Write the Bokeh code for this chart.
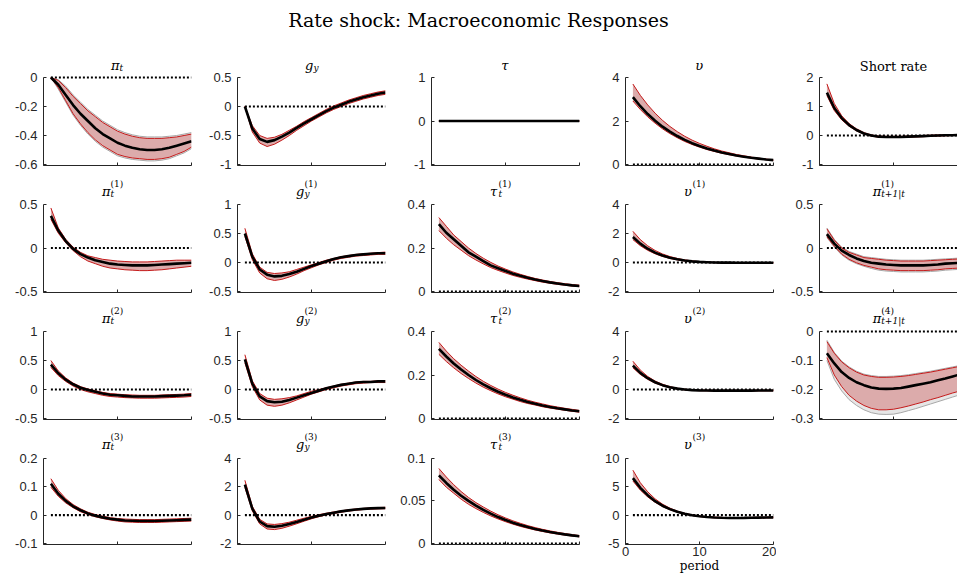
from bokeh.plotting import figure
from bokeh.layouts import column, row
from bokeh.models import Div, Range1d, Label, FixedTicker
from bokeh.embed import file_html
from bokeh.resources import INLINE

# ---------------- data ----------------
periods = list(range(1, 21))
zero_line = [0.0] * 20

# Row 1
pi_t_med = [0, -0.05, -0.12, -0.19, -0.25, -0.30, -0.35, -0.39, -0.42, -0.45, -0.47, -0.485, -0.495, -0.50, -0.50, -0.495, -0.485, -0.47, -0.455, -0.44]
pi_t_hi = [0, -0.02, -0.07, -0.13, -0.18, -0.23, -0.27, -0.31, -0.34, -0.37, -0.39, -0.405, -0.415, -0.42, -0.42, -0.42, -0.415, -0.41, -0.40, -0.39]
pi_t_lo = [0, -0.07, -0.16, -0.25, -0.32, -0.38, -0.43, -0.47, -0.50, -0.53, -0.545, -0.555, -0.56, -0.565, -0.565, -0.56, -0.55, -0.53, -0.51, -0.48]
pi_t_ghi = [0, -0.015, -0.06, -0.12, -0.17, -0.22, -0.26, -0.30, -0.33, -0.36, -0.38, -0.395, -0.405, -0.41, -0.41, -0.41, -0.405, -0.40, -0.39, -0.38]
pi_t_glo = [0, -0.08, -0.17, -0.26, -0.33, -0.39, -0.44, -0.48, -0.51, -0.54, -0.555, -0.565, -0.57, -0.575, -0.575, -0.57, -0.56, -0.54, -0.52, -0.49]

gy_med = [0, -0.38, -0.56, -0.61, -0.58, -0.52, -0.45, -0.37, -0.29, -0.22, -0.15, -0.08, -0.02, 0.03, 0.08, 0.12, 0.16, 0.19, 0.22, 0.24]
gy_hi = [0, -0.33, -0.50, -0.55, -0.53, -0.48, -0.41, -0.34, -0.26, -0.19, -0.12, -0.05, 0.01, 0.06, 0.11, 0.15, 0.19, 0.22, 0.25, 0.27]
gy_lo = [0, -0.44, -0.63, -0.69, -0.65, -0.58, -0.50, -0.41, -0.33, -0.25, -0.18, -0.11, -0.05, 0.00, 0.05, 0.09, 0.13, 0.16, 0.19, 0.21]

tau_med = [0.0] * 20
tau_hi = [0.0] * 20
tau_lo = [0.0] * 20

ups_med = [3.10, 2.68, 2.32, 2.01, 1.74, 1.51, 1.31, 1.13, 0.98, 0.85, 0.74, 0.64, 0.55, 0.48, 0.41, 0.36, 0.31, 0.27, 0.23, 0.20]
ups_hi = [3.70, 3.18, 2.74, 2.36, 2.03, 1.75, 1.51, 1.30, 1.12, 0.97, 0.84, 0.72, 0.62, 0.54, 0.46, 0.40, 0.34, 0.29, 0.25, 0.21]
ups_lo = [2.92, 2.53, 2.19, 1.90, 1.64, 1.42, 1.23, 1.06, 0.92, 0.80, 0.69, 0.60, 0.52, 0.45, 0.39, 0.34, 0.29, 0.25, 0.22, 0.19]

sr_med = [1.48, 0.95, 0.60, 0.36, 0.19, 0.07, 0.00, -0.04, -0.05, -0.05, -0.05, -0.04, -0.03, -0.02, -0.01, 0.00, 0.01, 0.01, 0.02, 0.02]
sr_hi = [1.78, 1.10, 0.68, 0.41, 0.23, 0.10, 0.02, -0.02, -0.03, -0.03, -0.03, -0.02, -0.01, 0.00, 0.01, 0.02, 0.02, 0.03, 0.03, 0.03]
sr_lo = [1.38, 0.86, 0.54, 0.32, 0.16, 0.05, -0.02, -0.06, -0.07, -0.07, -0.07, -0.06, -0.05, -0.04, -0.03, -0.02, -0.01, 0.00, 0.00, 0.01]

# Row 2
pi1_med = [0.37, 0.20, 0.08, -0.01, -0.07, -0.11, -0.14, -0.16, -0.18, -0.19, -0.195, -0.20, -0.20, -0.20, -0.195, -0.19, -0.185, -0.18, -0.175, -0.17]
pi1_hi = [0.46, 0.23, 0.10, 0.01, -0.05, -0.09, -0.11, -0.13, -0.14, -0.15, -0.155, -0.16, -0.16, -0.16, -0.155, -0.15, -0.145, -0.14, -0.14, -0.14]
pi1_lo = [0.33, 0.17, 0.06, -0.03, -0.10, -0.15, -0.18, -0.21, -0.23, -0.24, -0.25, -0.255, -0.26, -0.26, -0.255, -0.25, -0.24, -0.23, -0.22, -0.21]

gy1_med = [0.50, 0.10, -0.12, -0.21, -0.24, -0.23, -0.20, -0.16, -0.11, -0.06, -0.02, 0.02, 0.06, 0.09, 0.11, 0.13, 0.14, 0.15, 0.16, 0.16]
gy1_hi = [0.59, 0.15, -0.08, -0.17, -0.19, -0.18, -0.16, -0.12, -0.08, -0.04, 0.00, 0.04, 0.07, 0.10, 0.12, 0.14, 0.15, 0.16, 0.17, 0.18]
gy1_lo = [0.45, 0.05, -0.18, -0.28, -0.31, -0.29, -0.25, -0.20, -0.14, -0.09, -0.04, 0.00, 0.04, 0.07, 0.09, 0.11, 0.12, 0.13, 0.14, 0.14]

tau1_med = [0.31, 0.27, 0.24, 0.21, 0.18, 0.16, 0.14, 0.12, 0.107, 0.094, 0.082, 0.072, 0.063, 0.055, 0.048, 0.042, 0.037, 0.032, 0.028, 0.025]
tau1_hi = [0.34, 0.30, 0.26, 0.23, 0.20, 0.175, 0.153, 0.134, 0.117, 0.103, 0.090, 0.079, 0.069, 0.060, 0.053, 0.046, 0.041, 0.036, 0.032, 0.029]
tau1_lo = [0.28, 0.245, 0.215, 0.19, 0.165, 0.145, 0.127, 0.11, 0.097, 0.085, 0.074, 0.065, 0.057, 0.050, 0.043, 0.038, 0.033, 0.029, 0.025, 0.022]

ups1_med = [1.76, 1.30, 0.95, 0.68, 0.48, 0.33, 0.22, 0.14, 0.08, 0.04, 0.02, 0.00, -0.01, -0.01, -0.02, -0.02, -0.02, -0.02, -0.02, -0.02]
ups1_hi = [2.15, 1.58, 1.15, 0.83, 0.59, 0.41, 0.28, 0.18, 0.11, 0.06, 0.03, 0.01, 0.00, 0.00, -0.01, -0.01, -0.01, -0.01, -0.01, -0.01]
ups1_lo = [1.58, 1.16, 0.84, 0.60, 0.42, 0.28, 0.18, 0.11, 0.06, 0.02, 0.00, -0.01, -0.02, -0.02, -0.03, -0.03, -0.03, -0.03, -0.03, -0.03]

pif1_med = [0.16, 0.05, -0.03, -0.08, -0.12, -0.15, -0.17, -0.18, -0.19, -0.195, -0.20, -0.20, -0.20, -0.20, -0.195, -0.19, -0.18, -0.175, -0.17, -0.16]
pif1_hi = [0.22, 0.09, 0.00, -0.05, -0.08, -0.11, -0.12, -0.13, -0.14, -0.145, -0.15, -0.15, -0.15, -0.15, -0.145, -0.14, -0.135, -0.13, -0.125, -0.12]
pif1_lo = [0.13, 0.02, -0.07, -0.13, -0.17, -0.20, -0.22, -0.24, -0.25, -0.255, -0.26, -0.26, -0.26, -0.26, -0.255, -0.25, -0.24, -0.235, -0.23, -0.22]
pif1_ghi = [0.23, 0.10, 0.01, -0.04, -0.07, -0.10, -0.11, -0.12, -0.13, -0.135, -0.14, -0.14, -0.14, -0.14, -0.135, -0.13, -0.125, -0.12, -0.115, -0.11]
pif1_glo = [0.12, 0.01, -0.08, -0.14, -0.18, -0.21, -0.235, -0.255, -0.265, -0.27, -0.275, -0.275, -0.275, -0.275, -0.27, -0.265, -0.255, -0.25, -0.245, -0.235]

# Row 3
pi2_med = [0.43, 0.28, 0.17, 0.09, 0.03, -0.01, -0.04, -0.07, -0.09, -0.10, -0.11, -0.12, -0.12, -0.12, -0.12, -0.115, -0.11, -0.105, -0.10, -0.09]
pi2_hi = [0.50, 0.32, 0.20, 0.11, 0.05, 0.01, -0.02, -0.05, -0.07, -0.08, -0.09, -0.095, -0.10, -0.10, -0.10, -0.095, -0.09, -0.085, -0.08, -0.07]
pi2_lo = [0.38, 0.24, 0.14, 0.06, 0.00, -0.04, -0.07, -0.10, -0.12, -0.13, -0.14, -0.145, -0.15, -0.15, -0.15, -0.145, -0.14, -0.135, -0.13, -0.12]

gy2_med = [0.52, 0.10, -0.12, -0.20, -0.22, -0.21, -0.18, -0.14, -0.10, -0.06, -0.02, 0.02, 0.05, 0.08, 0.10, 0.12, 0.13, 0.13, 0.14, 0.14]
gy2_hi = [0.60, 0.15, -0.07, -0.15, -0.17, -0.16, -0.14, -0.11, -0.07, -0.03, 0.00, 0.03, 0.06, 0.09, 0.11, 0.13, 0.14, 0.14, 0.15, 0.15]
gy2_lo = [0.46, 0.05, -0.18, -0.27, -0.29, -0.27, -0.23, -0.18, -0.13, -0.08, -0.04, 0.00, 0.03, 0.06, 0.08, 0.10, 0.11, 0.12, 0.12, 0.12]

tau2_med = [0.32, 0.285, 0.253, 0.225, 0.20, 0.177, 0.157, 0.139, 0.123, 0.109, 0.097, 0.086, 0.076, 0.068, 0.060, 0.053, 0.047, 0.042, 0.037, 0.033]
tau2_hi = [0.35, 0.31, 0.275, 0.245, 0.218, 0.193, 0.171, 0.152, 0.135, 0.120, 0.107, 0.095, 0.084, 0.075, 0.067, 0.059, 0.053, 0.047, 0.042, 0.037]
tau2_lo = [0.295, 0.262, 0.233, 0.207, 0.184, 0.163, 0.144, 0.128, 0.113, 0.100, 0.089, 0.078, 0.069, 0.062, 0.054, 0.048, 0.043, 0.038, 0.033, 0.029]

ups2_med = [1.65, 1.15, 0.78, 0.50, 0.30, 0.16, 0.06, 0.00, -0.04, -0.06, -0.07, -0.08, -0.08, -0.08, -0.08, -0.08, -0.08, -0.07, -0.07, -0.07]
ups2_hi = [1.95, 1.34, 0.90, 0.58, 0.36, 0.20, 0.09, 0.02, -0.02, -0.04, -0.05, -0.06, -0.06, -0.06, -0.06, -0.06, -0.06, -0.05, -0.05, -0.05]
ups2_lo = [1.50, 1.04, 0.70, 0.44, 0.26, 0.12, 0.03, -0.02, -0.06, -0.08, -0.09, -0.10, -0.10, -0.10, -0.10, -0.10, -0.10, -0.09, -0.09, -0.09]

pif4_med = [-0.075, -0.11, -0.14, -0.16, -0.175, -0.185, -0.193, -0.197, -0.198, -0.197, -0.195, -0.19, -0.185, -0.18, -0.175, -0.168, -0.162, -0.155, -0.148, -0.142]
pif4_hi = [-0.035, -0.075, -0.105, -0.125, -0.14, -0.15, -0.155, -0.158, -0.158, -0.157, -0.155, -0.152, -0.148, -0.144, -0.14, -0.135, -0.13, -0.125, -0.12, -0.115]
pif4_lo = [-0.09, -0.15, -0.19, -0.22, -0.24, -0.255, -0.265, -0.27, -0.27, -0.268, -0.263, -0.257, -0.25, -0.243, -0.235, -0.228, -0.22, -0.212, -0.205, -0.198]
pif4_ghi = [-0.03, -0.072, -0.102, -0.122, -0.137, -0.147, -0.152, -0.155, -0.155, -0.154, -0.152, -0.149, -0.145, -0.141, -0.137, -0.132, -0.127, -0.122, -0.117, -0.112]
pif4_glo = [-0.10, -0.165, -0.205, -0.235, -0.255, -0.27, -0.28, -0.285, -0.286, -0.285, -0.28, -0.273, -0.266, -0.258, -0.25, -0.242, -0.234, -0.226, -0.218, -0.21]

# Row 4
pi3_med = [0.11, 0.075, 0.05, 0.031, 0.017, 0.006, -0.002, -0.008, -0.013, -0.016, -0.019, -0.02, -0.021, -0.021, -0.021, -0.02, -0.019, -0.018, -0.017, -0.016]
pi3_hi = [0.128, 0.087, 0.058, 0.037, 0.022, 0.010, 0.002, -0.004, -0.009, -0.012, -0.014, -0.015, -0.016, -0.016, -0.016, -0.015, -0.014, -0.013, -0.012, -0.011]
pi3_lo = [0.098, 0.066, 0.043, 0.026, 0.012, 0.002, -0.006, -0.012, -0.017, -0.021, -0.024, -0.025, -0.026, -0.026, -0.026, -0.025, -0.024, -0.023, -0.022, -0.021]

gy3_med = [2.15, 0.45, -0.45, -0.78, -0.82, -0.75, -0.63, -0.48, -0.32, -0.17, -0.04, 0.07, 0.17, 0.26, 0.33, 0.39, 0.44, 0.47, 0.49, 0.50]
gy3_hi = [2.45, 0.62, -0.30, -0.62, -0.66, -0.60, -0.50, -0.36, -0.22, -0.09, 0.03, 0.13, 0.22, 0.30, 0.37, 0.43, 0.47, 0.50, 0.53, 0.55]
gy3_lo = [1.95, 0.30, -0.62, -0.98, -1.02, -0.93, -0.78, -0.61, -0.43, -0.26, -0.11, 0.01, 0.11, 0.20, 0.28, 0.34, 0.39, 0.42, 0.44, 0.45]

tau3_med = [0.080, 0.071, 0.063, 0.056, 0.050, 0.0445, 0.0395, 0.035, 0.031, 0.0275, 0.0244, 0.0217, 0.0193, 0.0171, 0.0152, 0.0135, 0.012, 0.0107, 0.0095, 0.0085]
tau3_hi = [0.088, 0.078, 0.069, 0.061, 0.054, 0.048, 0.0428, 0.038, 0.0337, 0.030, 0.0266, 0.0237, 0.021, 0.0187, 0.0166, 0.0148, 0.0132, 0.0117, 0.0104, 0.0093]
tau3_lo = [0.075, 0.066, 0.059, 0.052, 0.046, 0.041, 0.0365, 0.0324, 0.0288, 0.0256, 0.0227, 0.0201, 0.0179, 0.0159, 0.0141, 0.0125, 0.0111, 0.0099, 0.0088, 0.0078]

ups3_med = [6.5, 4.8, 3.5, 2.45, 1.65, 1.05, 0.58, 0.24, -0.02, -0.2, -0.33, -0.42, -0.47, -0.5, -0.5, -0.49, -0.47, -0.45, -0.43, -0.41]
ups3_hi = [7.9, 5.7, 4.1, 2.85, 1.92, 1.22, 0.70, 0.32, 0.04, -0.15, -0.28, -0.36, -0.41, -0.44, -0.44, -0.43, -0.41, -0.39, -0.37, -0.35]
ups3_lo = [6.0, 4.4, 3.2, 2.25, 1.5, 0.94, 0.5, 0.17, -0.08, -0.26, -0.39, -0.48, -0.53, -0.56, -0.56, -0.55, -0.53, -0.51, -0.49, -0.47]

# ticks
x_ticks = [0, 10, 20]
x_tick_labels = ["0", "10", "20"]

panels = [
    # row 1
    [dict(t=("π", "", "t"), yr=(-0.6, 0), yt=[-0.6, -0.4, -0.2, 0], yl=["-0.6", "-0.4", "-0.2", "0"], med=pi_t_med, hi=pi_t_hi, lo=pi_t_lo, ghi=pi_t_ghi, glo=pi_t_glo),
     dict(t=("g", "", "y"), yr=(-1, 0.5), yt=[-1, -0.5, 0, 0.5], yl=["-1", "-0.5", "0", "0.5"], med=gy_med, hi=gy_hi, lo=gy_lo),
     dict(t=("τ", "", ""), yr=(-1, 1), yt=[-1, 0, 1], yl=["-1", "0", "1"], med=tau_med, hi=tau_hi, lo=tau_lo),
     dict(t=("υ", "", ""), yr=(0, 4), yt=[0, 2, 4], yl=["0", "2", "4"], med=ups_med, hi=ups_hi, lo=ups_lo),
     dict(t=("Short rate", None, None), yr=(-1, 2), yt=[-1, 0, 1, 2], yl=["-1", "0", "1", "2"], med=sr_med, hi=sr_hi, lo=sr_lo)],
    # row 2
    [dict(t=("π", "(1)", "t"), yr=(-0.5, 0.5), yt=[-0.5, 0, 0.5], yl=["-0.5", "0", "0.5"], med=pi1_med, hi=pi1_hi, lo=pi1_lo),
     dict(t=("g", "(1)", "y"), yr=(-0.5, 1), yt=[-0.5, 0, 0.5, 1], yl=["-0.5", "0", "0.5", "1"], med=gy1_med, hi=gy1_hi, lo=gy1_lo),
     dict(t=("τ", "(1)", "t"), yr=(0, 0.4), yt=[0, 0.2, 0.4], yl=["0", "0.2", "0.4"], med=tau1_med, hi=tau1_hi, lo=tau1_lo),
     dict(t=("υ", "(1)", ""), yr=(-2, 4), yt=[-2, 0, 2, 4], yl=["-2", "0", "2", "4"], med=ups1_med, hi=ups1_hi, lo=ups1_lo),
     dict(t=("π", "(1)", "t+1|t"), yr=(-0.5, 0.5), yt=[-0.5, 0, 0.5], yl=["-0.5", "0", "0.5"], med=pif1_med, hi=pif1_hi, lo=pif1_lo, ghi=pif1_ghi, glo=pif1_glo)],
    # row 3
    [dict(t=("π", "(2)", "t"), yr=(-0.5, 1), yt=[-0.5, 0, 0.5, 1], yl=["-0.5", "0", "0.5", "1"], med=pi2_med, hi=pi2_hi, lo=pi2_lo),
     dict(t=("g", "(2)", "y"), yr=(-0.5, 1), yt=[-0.5, 0, 0.5, 1], yl=["-0.5", "0", "0.5", "1"], med=gy2_med, hi=gy2_hi, lo=gy2_lo),
     dict(t=("τ", "(2)", "t"), yr=(0, 0.4), yt=[0, 0.2, 0.4], yl=["0", "0.2", "0.4"], med=tau2_med, hi=tau2_hi, lo=tau2_lo),
     dict(t=("υ", "(2)", ""), yr=(-2, 4), yt=[-2, 0, 2, 4], yl=["-2", "0", "2", "4"], med=ups2_med, hi=ups2_hi, lo=ups2_lo),
     dict(t=("π", "(4)", "t+1|t"), yr=(-0.3, 0), yt=[-0.3, -0.2, -0.1, 0], yl=["-0.3", "-0.2", "-0.1", "0"], med=pif4_med, hi=pif4_hi, lo=pif4_lo, ghi=pif4_ghi, glo=pif4_glo)],
    # row 4
    [dict(t=("π", "(3)", "t"), yr=(-0.1, 0.2), yt=[-0.1, 0, 0.1, 0.2], yl=["-0.1", "0", "0.1", "0.2"], med=pi3_med, hi=pi3_hi, lo=pi3_lo),
     dict(t=("g", "(3)", "y"), yr=(-2, 4), yt=[-2, 0, 2, 4], yl=["-2", "0", "2", "4"], med=gy3_med, hi=gy3_hi, lo=gy3_lo),
     dict(t=("τ", "(3)", "t"), yr=(0, 0.1), yt=[0, 0.05, 0.1], yl=["0", "0.05", "0.1"], med=tau3_med, hi=tau3_hi, lo=tau3_lo),
     dict(t=("υ", "(3)", ""), yr=(-5, 10), yt=[-5, 0, 5, 10], yl=["-5", "0", "5", "10"], med=ups3_med, hi=ups3_hi, lo=ups3_lo, xlab=True)],
]

# ---------------- layout / style ----------------
COL_W = 194
LEFT = 43
FRAME_W = 148
HEAD = 46          # height of the figure title block
ROW_H = 127
TITLE_PX = 31
BELOW_PX = 1
AXIS_C = "#262626"
TICK_FONT = "Liberation Sans"
SERIF = "DejaVu Serif"
RED_EDGE = "#c41a1a"
RED_FILL = "#dcabab"
GRAY_EDGE = "#a8a8a8"
GRAY_FILL = "#e6e6e6"


def add_title(p, parts, ymax, ppy):
    base, sup, sub = parts
    ppx = 20.0 / FRAME_W
    if sup is None:
        p.add_layout(Label(x=10, y=ymax + 11 * ppy, text=base, text_align="center",
                           text_baseline="alphabetic", text_font=SERIF,
                           text_font_size="13px", text_color="black"))
        return
    wb = 8.5
    ws = max(len(sup) * 4.1, len(sub) * 4.6)
    if sup:
        cx = 69.0
        b_off, s_off, p_off = 13.5, 11.0, 21.0
    else:
        cx = 74.0
        b_off, s_off, p_off = 12.5, 10.0, 0
    left_px = cx - (wb + ws) / 2
    p.add_layout(Label(x=left_px * ppx, y=ymax + b_off * ppy, text=base, text_align="left",
                       text_baseline="alphabetic", text_font=SERIF, text_font_style="italic",
                       text_font_size="13px", text_color="black"))
    sx = (left_px + wb) * ppx
    if sub:
        p.add_layout(Label(x=sx, y=ymax + s_off * ppy, text=sub, text_align="left",
                           text_baseline="alphabetic", text_font=SERIF, text_font_style="italic",
                           text_font_size="9px", text_color="black"))
    if sup:
        p.add_layout(Label(x=sx, y=ymax + p_off * ppy, text=sup, text_align="left",
                           text_baseline="alphabetic", text_font=SERIF,
                           text_font_size="9px", text_color="black"))


def make_panel(spec, ri, ci):
    last_row = ri == 3
    if last_row:
        height = 575 - HEAD - 3 * ROW_H
        mbb = 30
    else:
        height = ROW_H
        mbb = 8
    frame_h = height - mbb
    axis_h = frame_h - TITLE_PX - BELOW_PX
    if ci == 4:
        width = 957 - 4 * COL_W
        mbr = 0
    else:
        width = COL_W
        mbr = COL_W - LEFT - FRAME_W
    fw = width - LEFT - mbr
    x_end = 20.0 * fw / FRAME_W
    ymin, ymax = spec["yr"]
    ppy = (ymax - ymin) / axis_h
    y_lo = ymin - BELOW_PX * ppy
    p = figure(width=width, height=height, x_range=Range1d(0, x_end),
               y_range=Range1d(y_lo, ymax + TITLE_PX * ppy), output_backend="svg",
               toolbar_location=None, min_border_left=LEFT, min_border_right=mbr,
               min_border_top=0, min_border_bottom=mbb)
    p.outline_line_color = None
    p.grid.visible = False
    p.background_fill_color = "white"
    p.border_fill_color = "white"

    if "ghi" in spec:
        p.varea(x=periods, y1=spec["glo"], y2=spec["ghi"], fill_color=GRAY_FILL, fill_alpha=1.0)
        p.line(periods, spec["ghi"], line_color=GRAY_EDGE, line_width=1)
        p.line(periods, spec["glo"], line_color=GRAY_EDGE, line_width=1)
    p.varea(x=periods, y1=spec["lo"], y2=spec["hi"], fill_color=RED_FILL, fill_alpha=1.0)
    p.line(periods, spec["hi"], line_color=RED_EDGE, line_width=1)
    p.line(periods, spec["lo"], line_color=RED_EDGE, line_width=1)
    p.line(periods, zero_line, line_color="black", line_width=2.2, line_dash="2 2")
    p.line(periods, spec["med"], line_color="black", line_width=2.6)

    for ax in (p.xaxis[0], p.yaxis[0]):
        ax.axis_line_color = AXIS_C
        ax.axis_line_width = 1
        ax.major_tick_line_color = AXIS_C
        ax.major_tick_in = 3
        ax.major_tick_out = 0
        ax.minor_tick_line_color = AXIS_C
        ax.minor_tick_in = 3
        ax.minor_tick_out = 0
        ax.major_label_text_color = AXIS_C
        ax.major_label_text_font = TICK_FONT
        ax.major_label_text_font_size = "13px"

    p.yaxis.ticker = FixedTicker(ticks=spec["yt"], minor_ticks=[])
    p.yaxis.bounds = (y_lo, ymax)
    p.yaxis.major_label_overrides = {float(t): l for t, l in zip(spec["yt"], spec["yl"])}
    p.yaxis.major_label_standoff = 6

    if spec.get("xlab"):
        p.xaxis.ticker = FixedTicker(ticks=x_ticks, minor_ticks=[])
        p.xaxis.major_label_overrides = {float(t): l for t, l in zip(x_ticks, x_tick_labels)}
        p.xaxis.major_label_standoff = 2
        p.xaxis.axis_label = "period"
        p.xaxis.axis_label_text_font = SERIF
        p.xaxis.axis_label_text_font_style = "normal"
        p.xaxis.axis_label_text_font_size = "12px"
        p.xaxis.axis_label_text_color = "black"
        p.xaxis.axis_label_standoff = 0
    else:
        p.xaxis.ticker = FixedTicker(ticks=[], minor_ticks=x_ticks)
        p.xaxis.major_label_standoff = 0

    add_title(p, spec["t"], ymax, ppy)
    return p


title = Div(text="Rate shock: Macroeconomic Responses", width=957, height=HEAD, margin=(0, 0, 0, 0),
            styles={"font-family": "DejaVu Serif", "font-size": "19px", "color": "black",
                    "text-align": "center", "width": "957px", "padding-top": "7px"})

rows = [title]
for ri, rspec in enumerate(panels):
    figs = [make_panel(s, ri, ci) for ci, s in enumerate(rspec)]
    rows.append(row(*figs, spacing=0))

layout = column(*rows, spacing=0)
open("out.html", "w").write(file_html(layout, INLINE, "Rate shock: Macroeconomic Responses"))
